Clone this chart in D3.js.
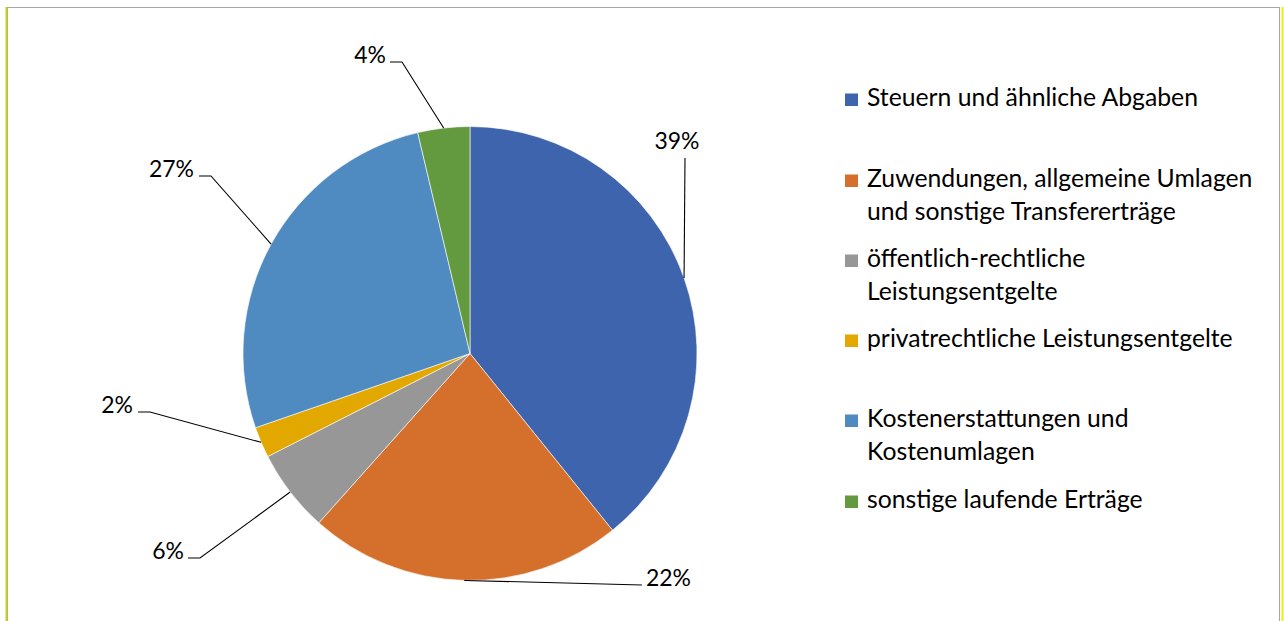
<!DOCTYPE html>
<html>
<head>
<meta charset="utf-8">
<script src="https://cdn.jsdelivr.net/npm/d3@7"></script>
<style>
  html, body { margin: 0; padding: 0; background: #fff; }
  svg { display: block; }
  text { font-family: Lato, "Open Sans", "Liberation Sans", sans-serif; fill: #000; }
</style>
</head>
<body>
<svg id="chart" width="1284" height="621"></svg>
<script>
// ---- data ----
const categories = [
  "Steuern und ähnliche Abgaben",
  "Zuwendungen, allgemeine Umlagen und sonstige Transfererträge",
  "öffentlich-rechtliche Leistungsentgelte",
  "privatrechtliche Leistungsentgelte",
  "Kostenerstattungen und Kostenumlagen",
  "sonstige laufende Erträge"
];
const legendLines = [
  ["Steuern und ähnliche Abgaben"],
  ["Zuwendungen, allgemeine Umlagen", "und sonstige Transfererträge"],
  ["öffentlich-rechtliche", "Leistungsentgelte"],
  ["privatrechtliche Leistungsentgelte"],
  ["Kostenerstattungen und", "Kostenumlagen"],
  ["sonstige laufende Erträge"]
];
const shares = [39.2, 22.4, 5.9, 2.2, 26.6, 3.7];
const colors = ["#3E64AD", "#D5702C", "#979797", "#E2A800", "#4F8AC0", "#63993F"];

// ---- layout (positions, not data) ----
const W = 1284, H = 621;
const cx = 470, cy = 353.5, R = 227;
const labelLayout = [
  {tx: 677, ty: 149, anchor: "middle", pts: [[685, 158]]},
  {tx: 646, ty: 586, anchor: "start",  pts: [[642, 585]]},
  {tx: 184, ty: 559, anchor: "end",    pts: [[200, 558], [188, 558]]},
  {tx: 133, ty: 413, anchor: "end",    pts: [[150, 412], [138, 412]]},
  {tx: 194, ty: 177, anchor: "end",    pts: [[211, 176], [199, 176]]},
  {tx: 386, ty: 63,  anchor: "end",    pts: [[402, 62],  [390, 62]]}
];
const legendTop = [106, 187, 267, 347, 427, 508];
const legendLineGap = 32.5;

const svg = d3.select("#chart");

// frame
svg.append("rect").attr("x", 7.5).attr("y", 7.5).attr("width", 1272).attr("height", 640)
  .attr("fill", "none").attr("stroke", "#A6A6A6").attr("stroke-width", 1);
svg.append("line").attr("x1", 6.5).attr("x2", 6.5).attr("y1", 7).attr("y2", H)
  .attr("stroke", "#C9CF1E").attr("stroke-width", 2);
svg.append("line").attr("x1", 1282.5).attr("x2", 1282.5).attr("y1", 7).attr("y2", H)
  .attr("stroke", "#F0EE00").attr("stroke-width", 2);

function fitSize(str, target) {
  const t = svg.append("text").attr("font-size", 100).text(str);
  const w = t.node().getComputedTextLength();
  t.remove();
  return 100 * target / w;
}
const legendFont = fitSize("Steuern und ähnliche Abgaben", 331);
const labelFont = fitSize("39%", 45);

// pie
const pie = d3.pie().sort(null).value(d => d)(shares);
const arc = d3.arc().innerRadius(0).outerRadius(R);
const g = svg.append("g").attr("transform", `translate(${cx},${cy})`);
g.selectAll("path").data(pie).join("path")
  .attr("d", arc)
  .attr("fill", (d, i) => colors[i])
  .attr("stroke", "#fff").attr("stroke-width", 0.6);

// labels + leader lines
const fmt = v => Math.round(v) + "%";
pie.forEach((d, i) => {
  const mid = (d.startAngle + d.endAngle) / 2;
  const ex = cx + R * Math.sin(mid), ey = cy - R * Math.cos(mid);
  const L = labelLayout[i];
  const pts = [[ex, ey]].concat(L.pts);
  svg.append("path").attr("d", d3.line()(pts))
    .attr("fill", "none").attr("stroke", "#000").attr("stroke-width", 1.1);
  svg.append("text").attr("x", L.tx).attr("y", L.ty)
    .attr("text-anchor", L.anchor).attr("font-size", labelFont)
    .text(fmt(d.data));
});

// legend
const leg = svg.append("g");
categories.forEach((c, i) => {
  const y = legendTop[i];
  leg.append("rect").attr("x", 845).attr("y", y - 12.5).attr("width", 13).attr("height", 12.5)
    .attr("fill", colors[i]);
  legendLines[i].forEach((ln, j) => {
    leg.append("text").attr("x", 867).attr("y", y + j * legendLineGap)
      .attr("font-size", legendFont).text(ln);
  });
});
</script>
</body>
</html>
